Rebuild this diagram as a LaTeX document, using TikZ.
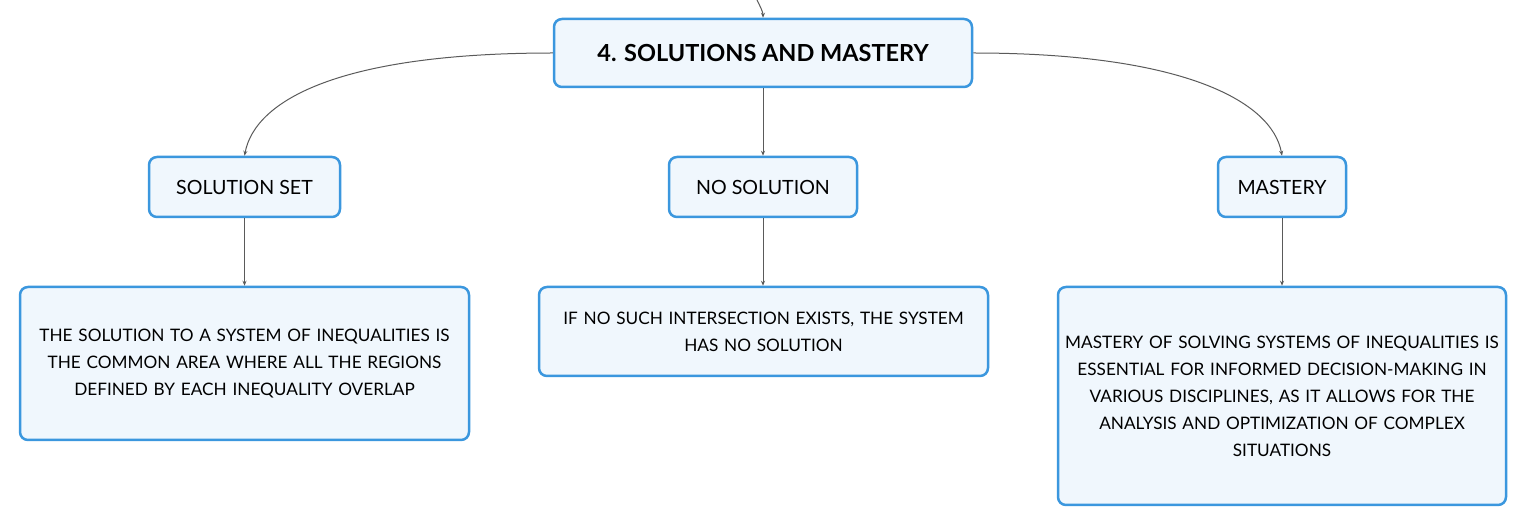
\documentclass[tikz,border=0pt]{standalone}
\usepackage{fontspec}
\setmainfont{Lato}
\usetikzlibrary{arrows.meta}
\definecolor{boxborder}{HTML}{3B97DE}
\definecolor{boxfill}{HTML}{F0F7FD}
\definecolor{linkcol}{HTML}{5A5A5A}
\tikzset{
  box/.style={draw=boxborder, fill=boxfill, line width=2.5pt, rounded corners=8pt, align=center, inner sep=0pt, text=black},
  link/.style={draw=linkcol, line width=1pt, -{Stealth[length=5pt,width=4pt]}},
  small/.style={font=\fontsize{19.6}{22}\selectfont},
  body/.style={text width=446pt, font=\fontsize{17.2}{27}\selectfont},
}
\begin{document}
\begin{tikzpicture}[x=1pt,y=-1pt]
\useasboundingbox (0,0) rectangle (1527,526);
\node[box, minimum width=418pt, minimum height=68pt, font=\fontsize{23.5}{26}\selectfont\bfseries] (title) at (763,53) {4. SOLUTIONS AND MASTERY};
\node[box, small, minimum width=191pt, minimum height=60pt] (ss) at (244.5,187) {SOLUTION SET};
\node[box, small, minimum width=188pt, minimum height=60pt] (ns) at (763,187) {NO SOLUTION};
\node[box, small, minimum width=128pt, minimum height=60pt] (ms) at (1282,187) {MASTERY};
\node[box, body, minimum width=449pt, minimum height=153pt] (b1) at (244.5,363.5) {THE SOLUTION TO A SYSTEM OF INEQUALITIES IS\\THE COMMON AREA WHERE ALL THE REGIONS\\DEFINED BY EACH INEQUALITY OVERLAP};
\node[box, body, minimum width=449pt, minimum height=89pt] (b2) at (763.5,331.5) {IF NO SUCH INTERSECTION EXISTS, THE SYSTEM\\HAS NO SOLUTION\\[-2pt]};
\node[box, body, minimum width=448pt, minimum height=218pt] (b3) at (1282,396) {MASTERY OF SOLVING SYSTEMS OF INEQUALITIES IS\\ESSENTIAL FOR INFORMED DECISION-MAKING IN\\VARIOUS DISCIPLINES, AS IT ALLOWS FOR THE\\ANALYSIS AND OPTIMIZATION OF COMPLEX\\SITUATIONS};
\coordinate (in) at (757,0);
\draw[link] (in) .. controls (760,6) and (763,12) .. (title.north);
\draw[link] (title.west) .. controls (340,53) and (255,100) .. (ss.north);
\draw[link] (title.east) .. controls (1180,53) and (1272,100) .. (ms.north);
\draw[link] (title.south) -- (ns.north);
\draw[link] (ss.south) -- (ss.south |- b1.north);
\draw[link] (ns.south) -- (ns.south |- b2.north);
\draw[link] (ms.south) -- (ms.south |- b3.north);
\end{tikzpicture}
\end{document}
